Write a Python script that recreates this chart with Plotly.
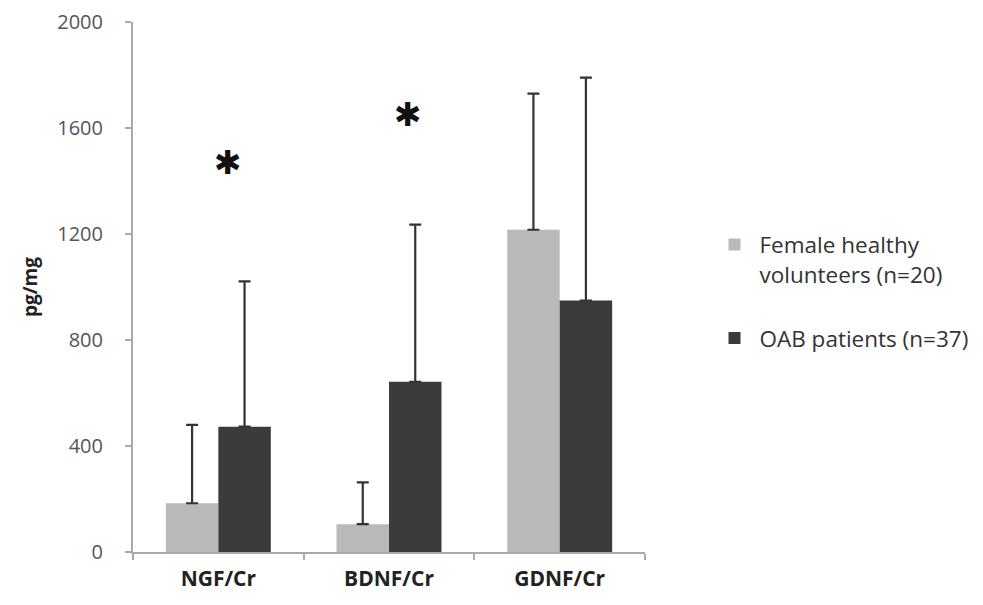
import plotly.graph_objects as go

categories = ["NGF/Cr", "BDNF/Cr", "GDNF/Cr"]
healthy_mean = [184, 105, 1216]
healthy_sd = [296, 158, 514]
oab_mean = [473, 642, 949]
oab_sd = [548, 593, 841]
sig_labels = ["NGF/Cr", "BDNF/Cr"]
sig_y = [1471, 1651]
sig_shift = [10, 19]
series_names = ["Female healthy<br>volunteers (n=20)", "OAB patients (n=37)"]
yticks = [0, 400, 800, 1200, 1600, 2000]

font_family = "Open Sans, Lato, sans-serif"

fig = go.Figure()
fig.add_trace(go.Bar(
    x=categories, y=healthy_mean, name=series_names[0],
    marker=dict(color="#b9b9b9", line=dict(width=0)),
    error_y=dict(type="data", symmetric=False, array=healthy_sd,
                 arrayminus=[0] * len(healthy_sd), color="#333333",
                 thickness=2.2, width=6),
    legendgroup="a",
))
fig.add_trace(go.Bar(
    x=categories, y=oab_mean, name=series_names[1],
    marker=dict(color="#3b3b3b", line=dict(width=0)),
    error_y=dict(type="data", symmetric=False, array=oab_sd,
                 arrayminus=[0] * len(oab_sd), color="#333333",
                 thickness=2.2, width=6),
    legendgroup="b",
))

for lab, yv, sh in zip(sig_labels, sig_y, sig_shift):
    fig.add_annotation(x=lab, y=yv, xref="x", yref="y", text="✱",
                       showarrow=False, xshift=sh,
                       font=dict(size=33, color="#111111", family="DejaVu Sans"))

fig.update_layout(
    width=983, height=605,
    margin=dict(l=125, r=346, t=14, b=61, autoexpand=False),
    paper_bgcolor="white", plot_bgcolor="white",
    barmode="group", bargap=0.385, bargroupgap=0,
    font=dict(family=font_family, size=19, color="#444444"),
    showlegend=True,
    legend=dict(x=1.126, y=0.62, xanchor="left", yanchor="top",
                font=dict(size=22.5, color="#333333", family=font_family),
                tracegroupgap=32, itemwidth=40, valign="top",
                bgcolor="rgba(0,0,0,0)"),
    xaxis=dict(showline=True, linecolor="#aaaaaa", linewidth=2,
               ticks="outside", tickson="boundaries", ticklen=6,
               tickcolor="#aaaaaa", tickwidth=1.5, automargin=False,
               ticklabelstandoff=7,
               tickfont=dict(size=21, color="#222222", family=font_family,
                             weight="bold"),
               showgrid=False, zeroline=False),
    yaxis=dict(range=[0, 2000], tickvals=yticks, showline=True,
               linecolor="#aaaaaa", linewidth=2, ticks="outside", ticklen=6,
               tickcolor="#aaaaaa", tickwidth=1.5, showgrid=False,
               zeroline=False, automargin=False, ticklabelstandoff=18,
               ticklabeloverflow="allow",
               tickfont=dict(size=20, color="#555555", family=font_family),
               title=dict(text="pg/mg", standoff=15,
                          font=dict(size=19, color="#222222", family=font_family,
                                    weight="bold"))),
)

fig.write_html("out.html")
